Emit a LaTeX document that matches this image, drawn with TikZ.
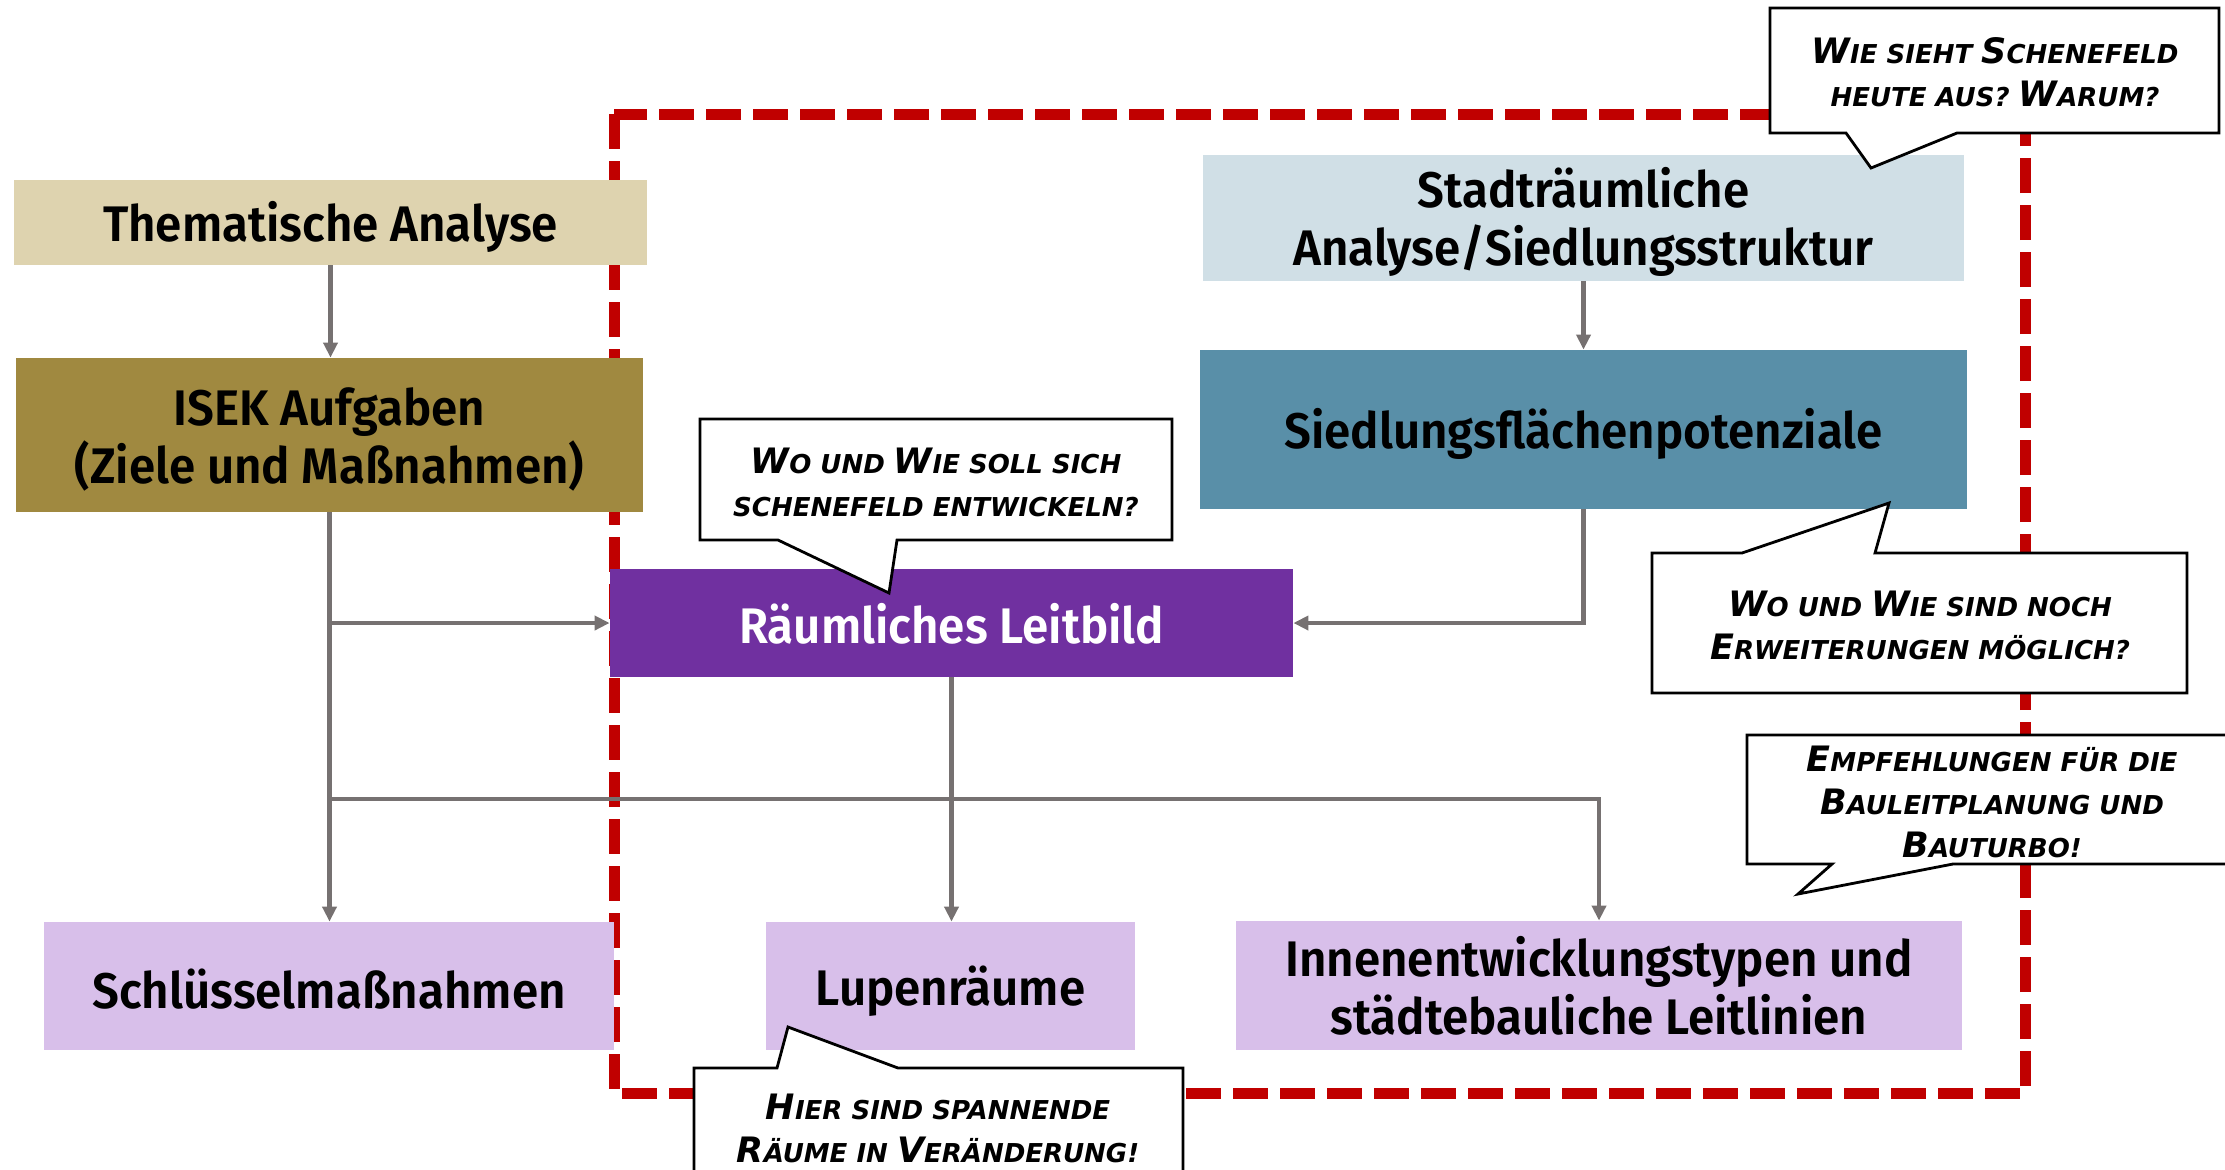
\documentclass[tikz,border=0pt]{standalone}
\usepackage{fontspec}
\setmainfont{Fira Sans}
\newfontfamily\boxfont{Fira Sans}[FakeStretch=0.95, BoldFont={Fira Sans SemiBold}]
\newfontfamily\comicfont{DejaVu Sans}
\usetikzlibrary{arrows.meta}
\definecolor{thema}{HTML}{DED3AF}
\definecolor{isek}{HTML}{A08940}
\definecolor{stadt}{HTML}{D0DFE6}
\definecolor{sied}{HTML}{598FA8}
\definecolor{leit}{HTML}{7030A0}
\definecolor{lav}{HTML}{D8BFEA}
\definecolor{arrgrey}{HTML}{767171}
\definecolor{frame}{HTML}{C00000}
\newcommand\Bg[1]{{\fontsize{17.5}{21}\selectfont #1}}
\tikzset{
  box/.style={draw=none, inner sep=0pt},
  boxlbl/.style={inner sep=0pt, align=center,
    font=\boxfont\bfseries\fontsize{25}{29}\selectfont},
  arr/.style={draw=arrgrey, line width=2.1pt, -{Triangle[width=7pt,length=7.5pt]}},
  bubble/.style={draw=black, fill=white, line width=1.4pt, line join=miter},
  btext/.style={align=center, inner sep=0pt,
    font=\comicfont\bfseries\itshape\fontsize{13}{21.5}\selectfont},
  redframe/.style={draw=frame, line width=5.5pt, dash pattern=on 17.5pt off 6pt}
}
\begin{document}
\begin{tikzpicture}[x=0.5pt,y=-0.5pt]
\useasboundingbox (0,0) rectangle (2225,1169);
% red dashed frame
\draw[redframe] (614,114) rectangle (2025,1093);
% boxes
\node[box, fill=thema, minimum width=316.5pt, minimum height=42.5pt] (thema) at (330.5,222.5) {};
\node[boxlbl] (thema-l) at ([yshift=-2pt]thema.center) {Thematische Analyse};
\node[box, fill=isek, minimum width=313.5pt, minimum height=77pt] (isek) at (329.5,435) {};
\node[boxlbl] (isek-l) at ([yshift=-2pt]isek.center) {ISEK Aufgaben\\(Ziele und Maßnahmen)};
\node[box, fill=stadt, minimum width=380.5pt, minimum height=63pt] (stadt) at (1583.5,218) {};
\node[boxlbl] (stadt-l) at ([yshift=-2pt]stadt.center) {Stadträumliche\\Analyse/Siedlungsstruktur};
\node[box, fill=sied, minimum width=383.5pt, minimum height=79.5pt] (sied) at (1583.5,429.5) {};
\node[boxlbl] (sied-l) at ([yshift=-2pt]sied.center) {Siedlungsflächenpotenziale};
\node[box, fill=leit, minimum width=341.5pt, minimum height=54pt] (leit) at (951.5,623) {};
\node[boxlbl, text=white] (leit-l) at ([yshift=-0.5pt]leit.center) {Räumliches Leitbild};
\node[box, fill=lav, minimum width=285pt, minimum height=64pt] (schl) at (329,986) {};
\node[boxlbl] (schl-l) at ([yshift=-1.5pt]schl.center) {Schlüsselmaßnahmen};
\node[box, fill=lav, minimum width=184.5pt, minimum height=64pt] (lupe) at (950.5,986) {};
\node[boxlbl] (lupe-l) at ([yshift=-2.5pt]lupe.center) {Lupenräume};
\node[box, fill=lav, minimum width=363pt, minimum height=64.5pt] (innen) at (1599,985.5) {};
\node[boxlbl] (innen-l) at (innen.center) {Innenentwicklungstypen und\\städtebauliche Leitlinien};
% connectors
\coordinate (j1) at (isek.south |- leit.west);
\coordinate (j2) at (isek.south |- 0,799);
\draw[arr] (thema.south) -- (thema.south |- isek.north);
\draw[arr] (isek.south) -- (isek.south |- schl.north);
\draw[arr] (j1) -- (leit.west);
\draw[arr] (j2) -| (innen.north);
\draw[arr] (stadt.south) -- (stadt.south |- sied.north);
\draw[arr] (sied.south) |- (leit.east);
\draw[arr] (leit.south) -- (leit.south |- lupe.north);
% speech bubbles
\draw[bubble] (1770,8) -- (2219,8) -- (2219,133) -- (1957,133) -- (1871,168) -- (1846,133) -- (1770,133) -- cycle;
\node[btext] (b1) at (1995,72) {\Bg{W}IE SIEHT \Bg{S}CHENEFELD\\HEUTE AUS? \Bg{W}ARUM?};
\draw[bubble] (700,419) -- (1172,419) -- (1172,540) -- (897,540) -- (889,593) -- (778,540) -- (700,540) -- cycle;
\node[btext] (b2) at (936,482) {\Bg{W}O UND \Bg{W}IE SOLL SICH\\SCHENEFELD ENTWICKELN?};
\draw[bubble] (1652,553) -- (1742,553) -- (1889,503) -- (1875,553) -- (2187,553) -- (2187,693) -- (1652,693) -- cycle;
\node[btext] (b3) at (1920,625) {\Bg{W}O UND \Bg{W}IE SIND NOCH\\\Bg{E}RWEITERUNGEN MÖGLICH?};
\draw[bubble] (1747,735) -- (2232,735) -- (2232,864) -- (1953,864) -- (1798,894) -- (1832,864) -- (1747,864) -- cycle;
\node[btext] (b4) at (1992,802) {\Bg{E}MPFEHLUNGEN FÜR DIE\\\Bg{B}AULEITPLANUNG UND\\\Bg{B}AUTURBO!};
\draw[bubble] (694,1068) -- (777,1068) -- (788,1027) -- (898,1068) -- (1183,1068) -- (1183,1185) -- (694,1185) -- cycle;
\node[btext] (b5) at (938,1128) {\Bg{H}IER SIND SPANNENDE\\\Bg{R}ÄUME IN \Bg{V}ERÄNDERUNG!};
\end{tikzpicture}
\end{document}
